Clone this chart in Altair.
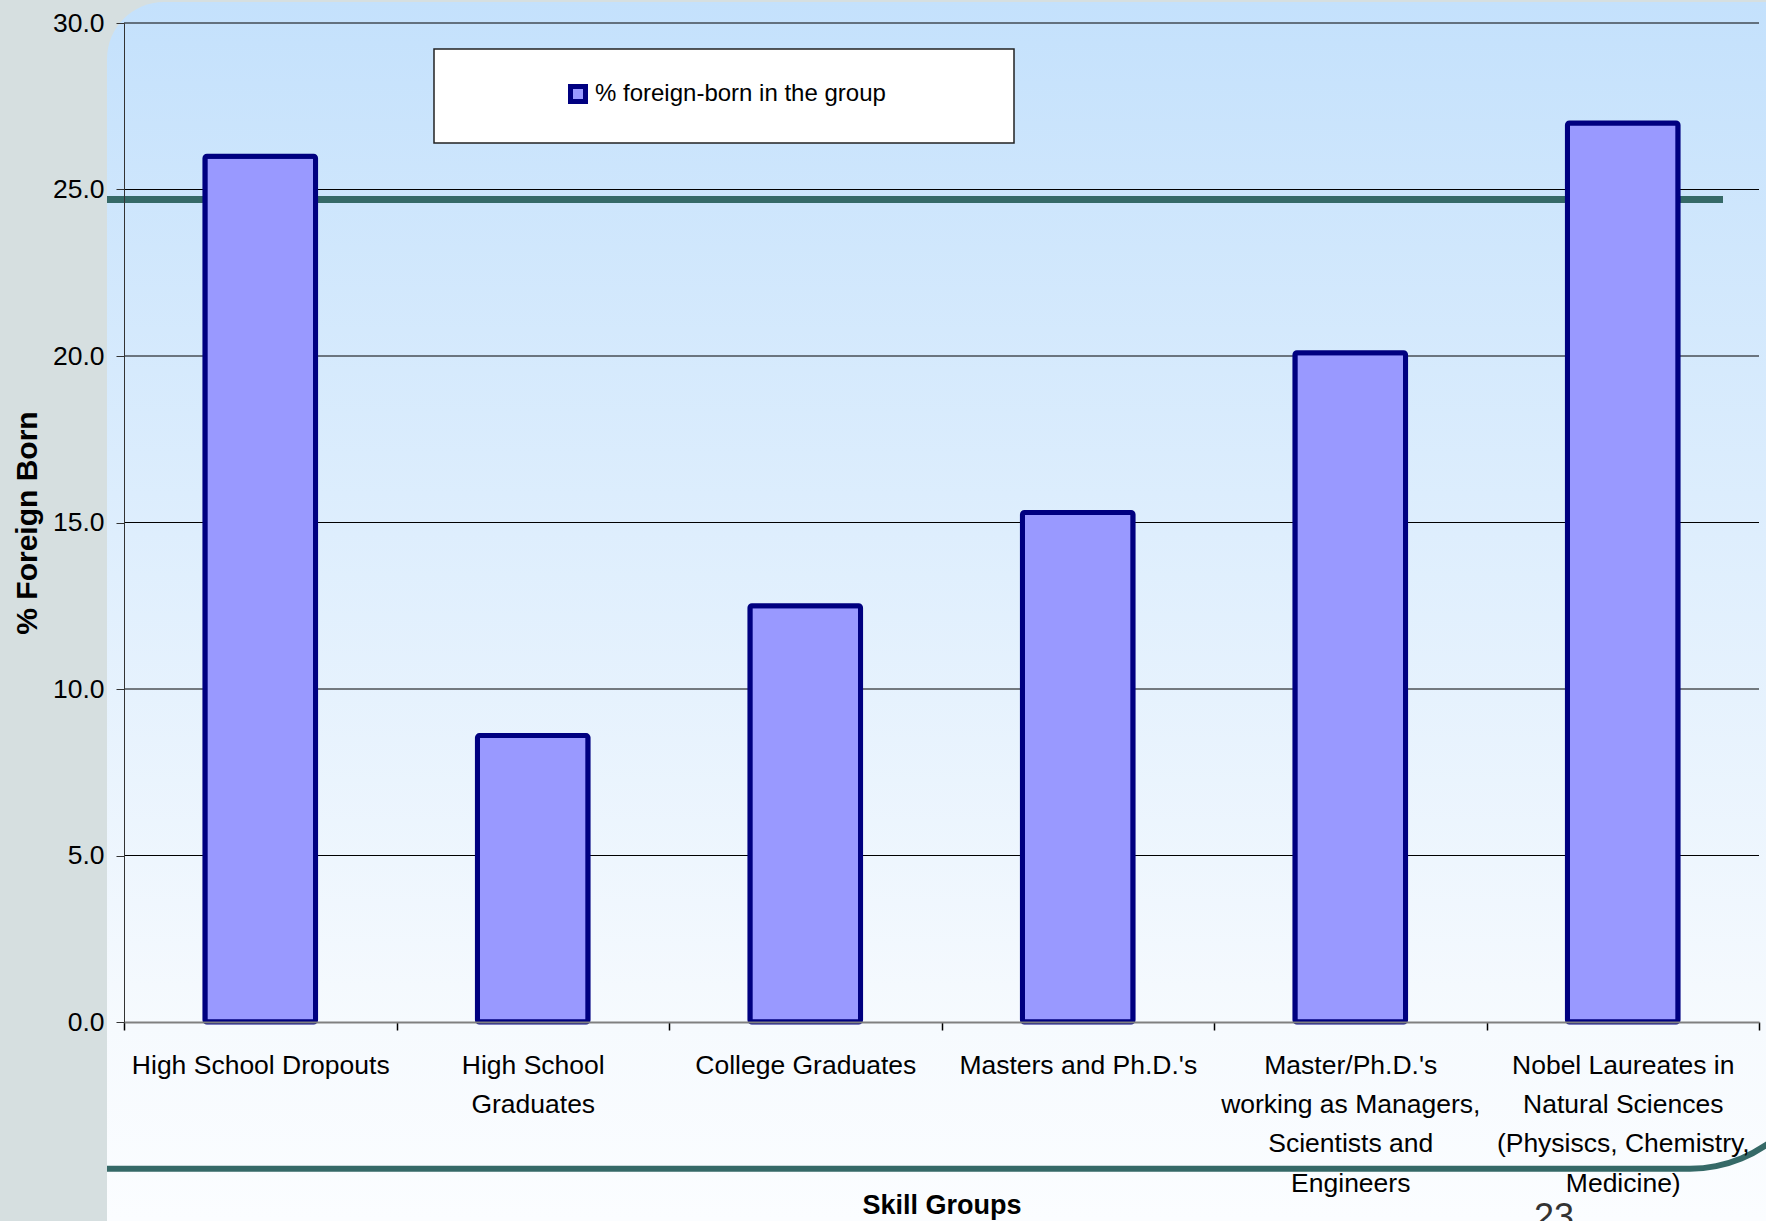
import math
import altair as alt
import pandas as pd

# ---- data ----
categories = [
    "High School Dropouts",
    "High School\nGraduates",
    "College Graduates",
    "Masters and Ph.D.'s",
    "Master/Ph.D.'s\nworking as Managers,\nScientists and\nEngineers",
    "Nobel Laureates in\nNatural Sciences\n(Physiscs, Chemistry,\nMedicine)",
]
values = [26.0, 8.6, 12.5, 15.3, 20.1, 27.0]
series_name = "% foreign-born in the group"
y_ticks = [0, 5, 10, 15, 20, 25, 30]
reference_line = 24.7
slide_number = "23"

# ---- layout ----
W, H = 1635, 999
PAD = {"left": 124, "top": 23, "right": 7, "bottom": 199}
SANS = "Liberation Sans, Arial, sans-serif"
TEAL = "#356967"

bars_df = pd.DataFrame({"group": categories, "pct": values, "series": series_name})
grid_df = pd.DataFrame({"tick": y_ticks[1:]})
ref_df = pd.DataFrame({"level": [reference_line]})
one = pd.DataFrame({"a": [0]})

y_scale = alt.Scale(domain=[0, 30], nice=False, zero=True)

x_axis = alt.Axis(
    title="Skill Groups", titleFont=SANS, titleFontWeight="bold", titleFontSize=27,
    titleColor="black", titleY=191, titleBaseline="alphabetic",
    labelExpr="split(datum.label, '\\n')", labelAngle=0, labelFont=SANS,
    labelFontSize=26.5, labelLineHeight=39.4, labelColor="black", labelPadding=22,
    labelLimit=330, labelOverlap=False, labelBound=False,
    tickBand="extent", tickSize=8, tickColor="black", tickWidth=1.5,
    domainColor="#808080", domainWidth=2, grid=False, zindex=1,
)
y_axis = alt.Axis(
    values=y_ticks, format=".1f", grid=False, domainColor="#333333", domainWidth=1,
    tickColor="#333333", tickSize=8, labelFont=SANS, labelFontSize=26.5,
    labelColor="black", labelPadding=12,
    title="% Foreign Born", titleFont=SANS, titleFontWeight="bold", titleFontSize=30,
    titleColor="black", titleX=-87.5, titleY=499.5, titleAngle=270,
    titleAlign="center", titleBaseline="alphabetic", zindex=1,
)

background = alt.Chart(one).mark_rect(
    cornerRadiusTopLeft=57,
    fill=alt.LinearGradient(
        gradient="linear",
        stops=[
            alt.GradientStop(color="#c4e1fc", offset=0),
            alt.GradientStop(color="#f6fafe", offset=0.84),
            alt.GradientStop(color="#fbfdff", offset=1),
        ],
        x1=0, x2=0, y1=0, y2=1,
    ),
).encode(x=alt.value(-17), x2=alt.value(1642), y=alt.value(-21), y2=alt.value(1198))

grid = alt.Chart(grid_df).mark_rule(color="#000000", strokeWidth=1).encode(
    y=alt.Y("tick:Q", scale=y_scale, axis=y_axis)
)

ref = alt.Chart(ref_df).mark_rule(color=TEAL, strokeWidth=7).encode(
    y=alt.Y("level:Q", scale=y_scale, axis=y_axis),
    x=alt.value(-17), x2=alt.value(1599),
)

bars = alt.Chart(bars_df).mark_bar(
    stroke="#000080", strokeWidth=5, cornerRadius=2,
    width=alt.RelativeBandSize(0.406),
).encode(
    x=alt.X("group:N", sort=categories,
            scale=alt.Scale(paddingInner=0, paddingOuter=0), axis=x_axis),
    y=alt.Y("pct:Q", scale=y_scale, axis=y_axis),
    color=alt.Color(
        "series:N", scale=alt.Scale(range=["#9999ff"]),
        legend=alt.Legend(
            title=None, orient="none", legendX=442, legendY=59,
            symbolType="square", symbolSize=225, symbolStrokeColor="#000080",
            symbolStrokeWidth=5, labelFont=SANS, labelFontSize=24,
            labelColor="black", labelOffset=5, labelLimit=500, padding=0,
        ),
    ),
)

legend_box = alt.Chart(one).mark_rect(fill="white", stroke="#222222", strokeWidth=1.5).encode(
    x=alt.value(310), x2=alt.value(890), y=alt.value(26), y2=alt.value(120)
)

bottom_rule = alt.Chart(one).mark_rule(color=TEAL, strokeWidth=6).encode(
    x=alt.value(-17), x2=alt.value(1566), y=alt.value(1145.7)
)
bottom_arc = alt.Chart(one).mark_arc(
    color=TEAL, radius=137, radius2=131, theta=math.pi / 2, theta2=math.pi
).encode(x=alt.value(1566), y=alt.value(1011.7))

number = alt.Chart(one).mark_text(
    text=slide_number, font=SANS, fontSize=36, color="#333333", baseline="alphabetic"
).encode(x=alt.value(1430), y=alt.value(1206))

chart = alt.layer(
    background, grid, ref, bars, legend_box, bottom_rule, bottom_arc, number
).properties(
    width=W, height=H, padding=PAD, autosize=alt.AutoSizeParams(type="none")
).configure(background="#d6dfe0").configure_view(stroke=None)

chart.save("out.html", embed_options={"renderer": "svg", "actions": False})
